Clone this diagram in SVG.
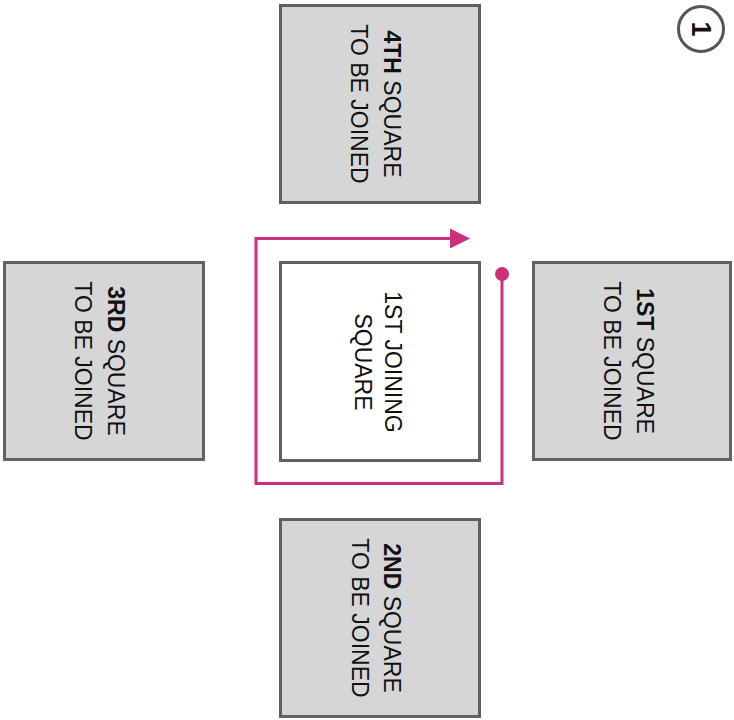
<svg xmlns="http://www.w3.org/2000/svg" width="734" height="720" viewBox="0 0 734 720">
<style>
.box{fill:#d6d6d6;stroke:#626262;stroke-width:3}
.center{fill:#ffffff;stroke:#626262;stroke-width:3}
.lbl{font-family:"Liberation Sans",Arial,sans-serif;font-size:23px;fill:#111;text-anchor:middle}
.b{font-weight:bold}
.conn{fill:none;stroke:#cc2f7c;stroke-width:3}
</style>
<rect width="734" height="720" fill="#ffffff"/>
<g id="square4">
<rect class="box" x="280.5" y="5.5" width="199" height="197"/>
<g transform="translate(380,104) rotate(90)">
<text class="lbl" x="0" y="-4"><tspan class="b">4TH</tspan> SQUARE</text>
<text class="lbl" x="0" y="29">TO BE JOINED</text>
</g>
</g>
<g id="square3">
<rect class="box" x="4.5" y="262.5" width="199" height="197"/>
<g transform="translate(104,361) rotate(90)">
<text class="lbl" x="0" y="-4"><tspan class="b">3RD</tspan> SQUARE</text>
<text class="lbl" x="0" y="29">TO BE JOINED</text>
</g>
</g>
<g id="square1">
<rect class="box" x="533.5" y="262.5" width="197" height="197"/>
<g transform="translate(632,361) rotate(90)">
<text class="lbl" x="0" y="-5"><tspan class="b">1ST</tspan> SQUARE</text>
<text class="lbl" x="0" y="28">TO BE JOINED</text>
</g>
</g>
<g id="square2">
<rect class="box" x="280.5" y="519.5" width="199" height="197"/>
<g transform="translate(380,618) rotate(90)">
<text class="lbl" x="0" y="-4"><tspan class="b">2ND</tspan> SQUARE</text>
<text class="lbl" x="0" y="28">TO BE JOINED</text>
</g>
</g>
<g id="joining">
<rect class="center" x="280.5" y="262.5" width="199" height="198"/>
<g transform="translate(380,362) rotate(90)">
<text class="lbl" x="0" y="-5">1ST JOINING</text>
<text class="lbl" x="0" y="25">SQUARE</text>
</g>
</g>
<g id="step">
<circle cx="701" cy="29" r="22.5" fill="#ffffff" stroke="#555555" stroke-width="3"/>
<g transform="translate(701,29) rotate(90)">
<text x="0" y="9" font-family="Liberation Sans,Arial,sans-serif" font-size="27" font-weight="bold" text-anchor="middle" fill="#111">1</text>
</g>
</g>
<g id="connectors">
<path class="conn" d="M502 274 V483.5 H256 V238.5 H452"/>
<polygon points="450,228.5 470,238.5 450,248.5" fill="#cc2f7c"/>
<circle cx="502" cy="274" r="7" fill="#cc2f7c"/>
</g>
</svg>
